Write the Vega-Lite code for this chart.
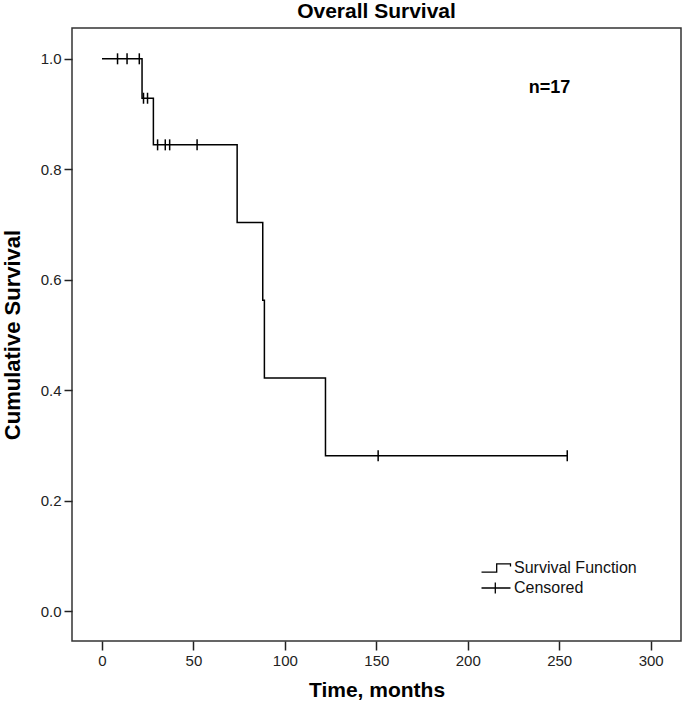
{
  "$schema": "https://vega.github.io/schema/vega-lite/v6.json",
  "width": 609,
  "height": 613,
  "autosize": "none",
  "padding": {"left": 72, "top": 28, "right": 4, "bottom": 71},
  "background": "white",
  "title": {
    "text": "Overall Survival",
    "font": "Liberation Sans",
    "fontSize": 21,
    "fontWeight": "bold",
    "color": "black",
    "anchor": "middle",
    "offset": 6
  },
  "config": {
    "view": {"stroke": "#333", "strokeWidth": 1.5},
    "axis": {
      "domain": false,
      "grid": false,
      "tickColor": "#222",
      "tickWidth": 1.5,
      "labelFont": "Liberation Sans",
      "labelFontSize": 15,
      "labelColor": "#222",
      "titleFont": "Liberation Sans",
      "titleFontWeight": "bold",
      "titleColor": "black"
    }
  },
  "datasets": {
    "curve": [
      {"time": 0, "survival": 1.0},
      {"time": 21.9, "survival": 0.9286},
      {"time": 28.1, "survival": 0.8442},
      {"time": 73.9, "survival": 0.7035},
      {"time": 87.9, "survival": 0.5628},
      {"time": 88.8, "survival": 0.4221},
      {"time": 122.2, "survival": 0.2814},
      {"time": 254.4, "survival": 0.2814}
    ],
    "censored": [
      {"time": 8.5, "survival": 1.0, "type": "Censored"},
      {"time": 13.7, "survival": 1.0, "type": "Censored"},
      {"time": 20.4, "survival": 1.0, "type": "Censored"},
      {"time": 22.7, "survival": 0.9286, "type": "Censored"},
      {"time": 24.9, "survival": 0.9286, "type": "Censored"},
      {"time": 30.4, "survival": 0.8442, "type": "Censored"},
      {"time": 34.6, "survival": 0.8442, "type": "Censored"},
      {"time": 37.0, "survival": 0.8442, "type": "Censored"},
      {"time": 52.0, "survival": 0.8442, "type": "Censored"},
      {"time": 151.0, "survival": 0.2814, "type": "Censored"},
      {"time": 254.4, "survival": 0.2814, "type": "Censored"}
    ],
    "note": [
      {"time": 244.7, "survival": 0.948, "label": "n=17"}
    ]
  },
  "layer": [
    {
      "data": {"name": "curve"},
      "mark": {"type": "line", "interpolate": "step-after", "color": "black", "strokeWidth": 1.5},
      "encoding": {
        "x": {
          "field": "time", "type": "quantitative",
          "scale": {"domain": [-16.4, 316.6], "nice": false, "zero": false},
          "axis": {"title": "Time, months", "values": [0, 50, 100, 150, 200, 250, 300], "tickSize": 9, "labelPadding": 3, "titleFontSize": 21, "titlePadding": 11}
        },
        "y": {
          "field": "survival", "type": "quantitative",
          "scale": {"domain": [-0.0543, 1.0558], "nice": false, "zero": false},
          "axis": {"title": "Cumulative Survival", "values": [0, 0.2, 0.4, 0.6, 0.8, 1.0], "format": ".1f", "tickSize": 8, "labelPadding": 3, "titleFontSize": 22, "titlePadding": 16}
        }
      }
    },
    {
      "data": {"name": "censored"},
      "mark": {"type": "point", "filled": false, "size": 121, "strokeWidth": 1.5, "color": "black", "opacity": 1, "shape": "M0,-1L0,1"},
      "encoding": {
        "x": {"field": "time", "type": "quantitative"},
        "y": {"field": "survival", "type": "quantitative"}
      }
    },
    {
      "data": {"name": "censored"},
      "mark": {"type": "point", "filled": false, "size": 121, "strokeWidth": 1.3, "color": "black", "opacity": 0},
      "encoding": {
        "x": {"field": "time", "type": "quantitative"},
        "y": {"field": "survival", "type": "quantitative"},
        "shape": {
          "field": "type", "type": "nominal",
          "scale": {"domain": ["Survival Function", "Censored"], "range": ["M-2.07,0.58L0.1,0.58L0.1,-0.58L2.07,-0.58L2.07,-0.2", "M-2.07,0L2.07,0M-0.1,-0.77L-0.1,0.77"]},
          "legend": {
            "orient": "none",
            "legendX": 416,
            "legendY": 532,
            "title": null,
            "labelFont": "Liberation Sans",
            "labelFontSize": 16,
            "labelColor": "#111",
            "labelOffset": 10,
            "rowPadding": 4,
            "symbolSize": 196,
            "symbolOpacity": 1,
            "symbolStrokeColor": "black",
            "symbolStrokeWidth": 1.3,
            "symbolFillColor": "transparent"
          }
        }
      }
    },
    {
      "data": {"name": "note"},
      "mark": {"type": "text", "font": "Liberation Sans", "fontSize": 18, "fontWeight": "bold", "color": "black"},
      "encoding": {
        "x": {"field": "time", "type": "quantitative"},
        "y": {"field": "survival", "type": "quantitative"},
        "text": {"field": "label"}
      }
    }
  ]
}
